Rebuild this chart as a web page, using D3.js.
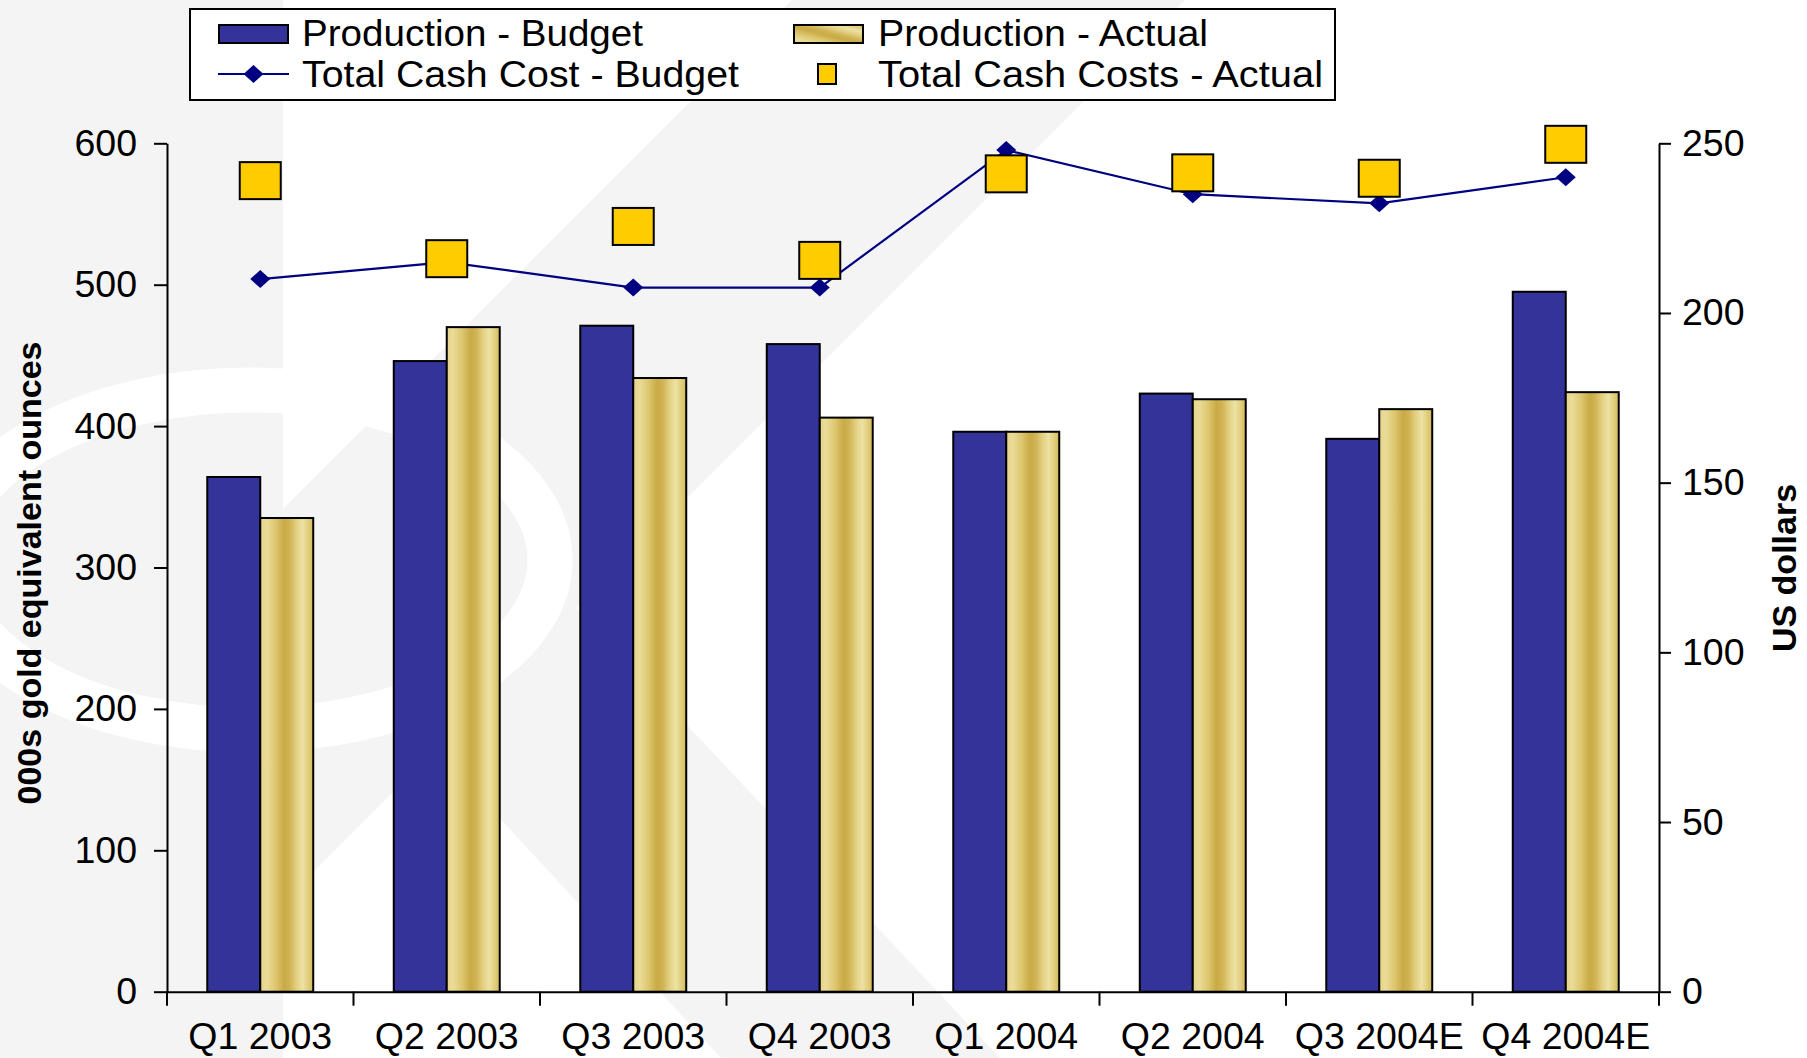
<!DOCTYPE html>
<html>
<head>
<meta charset="utf-8">
<script src="https://cdn.jsdelivr.net/npm/d3@7"></script>
<style>
body { margin: 0; background: #fff; }
svg text { font-family: "Liberation Sans", Arial, sans-serif; fill: #000; }
</style>
</head>
<body>
<div id="chart"></div>
<script>
// chart data
let categories = ["Q1 2003", "Q2 2003", "Q3 2003", "Q4 2003", "Q1 2004", "Q2 2004", "Q3 2004E", "Q4 2004E"]
let productionBudget = [364, 446, 471, 458, 396, 423, 391, 495]
let productionActual = [335, 470, 434, 406, 396, 419, 412, 424]
let cashCostBudget = [210, 215, 207.5, 207.5, 248, 235, 232.3, 240]
let cashCostActual = [239, 216, 225.5, 215.5, 241, 241.3, 239.7, 249.7]
let leftTicks = [0, 100, 200, 300, 400, 500, 600]
let rightTicks = [0, 50, 100, 150, 200, 250]
let seriesNames = ["Production - Budget", "Production - Actual", "Total Cash Cost - Budget", "Total Cash Costs - Actual"]

let svgWidth = 1807
let svgHeight = 1058

let margin = {
    left: 167,
    right: 148,
    top: 143.3,
    bottom: 66.3
}

let width = svgWidth - margin.left - margin.right
let height = svgHeight - margin.top - margin.bottom

let root = d3.select('#chart')
    .append('svg')
    .attr('width', svgWidth)
    .attr('height', svgHeight)

// gold texture for actual production bars
let defs = root.append('defs')
let gold = defs.append('linearGradient')
    .attr('id', 'gold')
    .attr('x1', 0).attr('y1', 0).attr('x2', 1).attr('y2', 0)
let goldStops = [
    [0, '#e6d488'], [0.12, '#eadc98'], [0.3, '#dcc56c'], [0.45, '#c9aa46'],
    [0.55, '#cfb252'], [0.68, '#e2cf80'], [0.8, '#ede2a4'], [0.92, '#e0cc78'], [1, '#d2b85a']
]
goldStops.forEach(s => gold.append('stop').attr('offset', s[0]).attr('stop-color', s[1]))

let goldLegend = defs.append('linearGradient')
    .attr('id', 'goldLegend')
    .attr('x1', 0).attr('y1', 1).attr('x2', 1).attr('y2', 0)
goldStops.forEach(s => goldLegend.append('stop').attr('offset', s[0]).attr('stop-color', s[1]))

// faint watermark in the background
let wm = root.append('g')
wm.append('rect')
    .attr('x', 0).attr('y', 0)
    .attr('width', 283).attr('height', svgHeight)
    .attr('fill', '#f4f4f4')
wm.append('polygon')
    .attr('points', '283,509 792,0 1185,0 283,902')
    .attr('fill', '#f4f4f4')
wm.append('polygon')
    .attr('points', '314,617 721,1058 1000,1058 560,590 470,560')
    .attr('fill', '#f4f4f4')
wm.append('ellipse')
    .attr('cx', 250).attr('cy', 560).attr('rx', 300).attr('ry', 170)
    .attr('fill', 'none')
    .attr('stroke', '#ffffff')
    .attr('stroke-width', 45)

let svg = root.append('g')
    .attr('transform', 'translate(' + margin.left + ',' + margin.top + ')')

// scales
let x0 = d3.scaleBand()
    .domain(categories)
    .range([0, width])
    .padding(0)

let x1 = d3.scaleBand()
    .domain(['budget', 'actual'])
    .range([0, x0.bandwidth()])
    .paddingInner(0)
    .paddingOuter(0.76)

let yLeft = d3.scaleLinear()
    .domain([0, 600])
    .range([height, 0])

let yRight = d3.scaleLinear()
    .domain([0, 250])
    .range([height, 0])

// bars
let groups = svg.selectAll('.group')
    .data(categories)
    .enter()
    .append('g')
    .attr('class', 'group')
    .attr('transform', d => 'translate(' + x0(d) + ',0)')

groups.append('rect')
    .attr('x', x1('budget'))
    .attr('y', (d, i) => yLeft(productionBudget[i]))
    .attr('width', x1.bandwidth())
    .attr('height', (d, i) => height - yLeft(productionBudget[i]))
    .attr('fill', '#333399')
    .attr('stroke', '#000')
    .attr('stroke-width', 2)

groups.append('rect')
    .attr('x', x1('actual'))
    .attr('y', (d, i) => yLeft(productionActual[i]))
    .attr('width', x1.bandwidth())
    .attr('height', (d, i) => height - yLeft(productionActual[i]))
    .attr('fill', 'url(#gold)')
    .attr('stroke', '#000')
    .attr('stroke-width', 2)

// axes
let xAxis = d3.axisBottom(x0)
    .tickSize(0)
    .tickPadding(31)

let leftAxis = d3.axisLeft(yLeft)
    .tickValues(leftTicks)
    .tickFormat(d3.format('d'))
    .tickSize(13)
    .tickSizeOuter(0)
    .tickPadding(17)

let rightAxis = d3.axisRight(yRight)
    .tickValues(rightTicks)
    .tickFormat(d3.format('d'))
    .tickSize(12)
    .tickSizeOuter(0)
    .tickPadding(11)

let gx = svg.append('g')
    .attr('transform', `translate(0,${height})`)
    .call(xAxis)

// category dividers on the x axis
gx.selectAll('.divider')
    .data(d3.range(categories.length + 1))
    .enter()
    .append('line')
    .attr('class', 'divider')
    .attr('x1', d => d * x0.step())
    .attr('x2', d => d * x0.step())
    .attr('y1', 0)
    .attr('y2', 14)
    .attr('stroke', '#000')
    .attr('stroke-width', 2)

let gl = svg.append('g').call(leftAxis)
let gr = svg.append('g')
    .attr('transform', `translate(${width},0)`)
    .call(rightAxis)

;[gx, gl, gr].forEach(g => {
    g.selectAll('path.domain').attr('stroke', '#000').attr('stroke-width', 2)
    g.selectAll('.tick line').attr('stroke', '#000').attr('stroke-width', 2)
    g.selectAll('text')
        .style('font-family', '"Liberation Sans", Arial, sans-serif')
        .style('font-size', '37.5px')
        .attr('fill', '#000')
})

// cash cost budget line
let cx = (d, i) => x0(categories[i]) + x0.bandwidth() / 2

let valueLine = d3.line()
    .x((d, i) => cx(d, i))
    .y(d => yRight(d))

svg.append('path')
    .attr('d', valueLine(cashCostBudget))
    .attr('fill', 'none')
    .attr('stroke', '#000080')
    .attr('stroke-width', 2.2)

let diamond = d3.symbol().type(d3.symbolSquare).size(200)

svg.selectAll('.diamond')
    .data(cashCostBudget)
    .enter()
    .append('path')
    .attr('class', 'diamond')
    .attr('d', diamond)
    .attr('transform', (d, i) => `translate(${cx(d, i)},${yRight(d)}) scale(1,0.9) rotate(45)`)
    .attr('fill', '#000080')

// cash cost actual markers
svg.selectAll('.square')
    .data(cashCostActual)
    .enter()
    .append('rect')
    .attr('class', 'square')
    .attr('x', (d, i) => cx(d, i) - 20.5)
    .attr('y', d => yRight(d) - 18.5)
    .attr('width', 41)
    .attr('height', 37)
    .attr('fill', '#ffcc00')
    .attr('stroke', '#000')
    .attr('stroke-width', 2)

// axis titles
root.append('text')
    .attr('transform', 'translate(29,573) rotate(-90)')
    .attr('text-anchor', 'middle')
    .attr('dominant-baseline', 'central')
    .style('font-size', '34px')
    .style('font-weight', 'bold')
    .text('000s gold equivalent ounces')

root.append('text')
    .attr('transform', 'translate(1784,568) rotate(-90)')
    .attr('text-anchor', 'middle')
    .attr('dominant-baseline', 'central')
    .style('font-size', '34px')
    .style('font-weight', 'bold')
    .text('US dollars')

// legend
let legend = root.append('g')
legend.append('rect')
    .attr('x', 190).attr('y', 9)
    .attr('width', 1145).attr('height', 91)
    .attr('fill', '#fff')
    .attr('stroke', '#000')
    .attr('stroke-width', 2)

legend.append('rect')
    .attr('x', 219).attr('y', 25)
    .attr('width', 69).attr('height', 18)
    .attr('fill', '#333399')
    .attr('stroke', '#000')
    .attr('stroke-width', 2)

legend.append('rect')
    .attr('x', 794).attr('y', 25)
    .attr('width', 69).attr('height', 18)
    .attr('fill', 'url(#goldLegend)')
    .attr('stroke', '#000')
    .attr('stroke-width', 2)

legend.append('line')
    .attr('x1', 218).attr('x2', 289)
    .attr('y1', 74).attr('y2', 74)
    .attr('stroke', '#000080')
    .attr('stroke-width', 2.2)

legend.append('path')
    .attr('d', diamond)
    .attr('transform', 'translate(253.5,74) scale(1,0.9) rotate(45)')
    .attr('fill', '#000080')

legend.append('rect')
    .attr('x', 818).attr('y', 64)
    .attr('width', 18).attr('height', 20)
    .attr('fill', '#ffcc00')
    .attr('stroke', '#000')
    .attr('stroke-width', 2)

// legend label placement, widths stretched like the original slide
let legendText = [
    {x: 302, y: 46, w: 341},
    {x: 878, y: 46, w: 330},
    {x: 302, y: 87, w: 437},
    {x: 878, y: 87, w: 445}
]

legend.selectAll('.ltext')
    .data(seriesNames)
    .enter()
    .append('text')
    .attr('class', 'ltext')
    .attr('x', (d, i) => legendText[i].x)
    .attr('y', (d, i) => legendText[i].y)
    .attr('textLength', (d, i) => legendText[i].w)
    .attr('lengthAdjust', 'spacingAndGlyphs')
    .style('font-size', '37px')
    .text(d => d)
</script>
</body>
</html>
